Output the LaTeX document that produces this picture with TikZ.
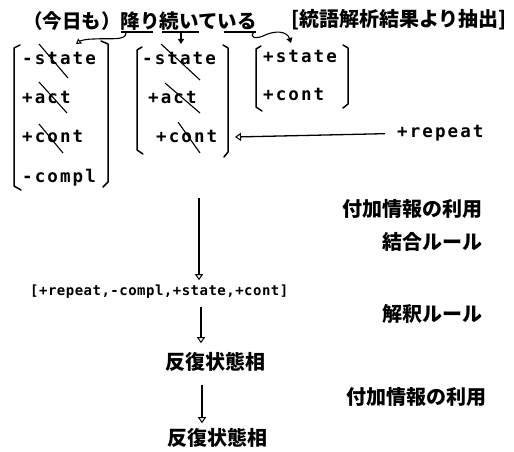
\documentclass[tikz,border=0pt]{standalone}
\usepackage{fontspec}
\newfontfamily\jp{Noto Sans CJK JP}
\newfontfamily\mono{DejaVu Sans Mono}[LetterSpace=12]
\newfontfamily\monosm{DejaVu Sans Mono}[LetterSpace=3.5]
\usetikzlibrary{arrows.meta}
\begin{document}
\begin{tikzpicture}[x=1pt,y=-1pt,
  feat/.style={font=\mono\bfseries\fontsize{17.5}{17.5}\selectfont, inner sep=0pt, anchor=base west},
  featsm/.style={font=\monosm\bfseries\fontsize{14}{14}\selectfont, inner sep=0pt, anchor=base west},
  jpl/.style={font=\jp\bfseries\fontsize{20}{20}\selectfont, inner sep=0pt},
  jpt/.style={font=\jp\bfseries\fontsize{19.5}{19.5}\selectfont, inner sep=0pt},
  brk/.style={line width=1.5pt, line join=round, line cap=round},
  strike/.style={line width=1.1pt},
  uline/.style={line width=1.3pt},
  oarrow/.style={line width=1.3pt, -{Triangle[open,length=6pt,width=8pt,line width=1pt]}},
  smarrow/.style={line width=1.1pt, -{Triangle[open,length=5pt,width=6pt,line width=1pt]}},
  farrow/.style={line width=1.1pt, -{Triangle[length=5pt,width=6pt]}}
]
\useasboundingbox (0,0) rectangle (514,452);

% title
\node[jpt, anchor=west] (title) at (23,21) {（今日も）降り続いている};
\node[jpt, anchor=west, font=\jp\bfseries\fontsize{20}{20}\selectfont] (src) at (291,20) {[統語解析結果より抽出]};
\draw[uline] (121,32) -- (153,32);
\draw[uline] (162,32) -- (199,32);
\draw[uline] (224,32) -- (256,32);

% box 1
\node[feat] (b1s) at (22,65) {-state};
\node[feat] (b1a) at (22,103) {+act};
\node[feat] (b1c) at (22,142) {+cont};
\node[feat] (b1m) at (22,182) {-compl};
\draw[brk] (20,45) -- (14,48) -- (14,186) -- (21,190);
\draw[brk] (101,41) -- (108,44) -- (108,182) -- (103,187);
\draw[strike] (39,44) -- (68,78);
\draw[strike] (39,82) -- (67,113);
\draw[strike] (39,124) -- (63,153);

% box 2
\node[feat] (b2s) at (142,65) {-state};
\node[feat] (b2a) at (148,103) {+act};
\node[feat] (b2c) at (156,142) {+cont};
\draw[brk] (142,47) -- (137,50) -- (137,150) -- (143,154);
\draw[brk] (223,45) -- (228,48) -- (228,152) -- (224,157);
\draw[strike] (161,44) -- (200,80);
\draw[strike] (165,83) -- (200,113);
\draw[strike] (178,122) -- (200,153);

% box 3
\node[feat] (b3s) at (263,63) {+state};
\node[feat] (b3c) at (263,100) {+cont};
\draw[brk] (261,46) -- (256,49) -- (256,107) -- (262,111);
\draw[brk] (343,45) -- (348,48) -- (348,104) -- (343,108);

% connectors from the title
\coordinate (c1s) at (126,33);
\coordinate (c1e) at (76,44);
\draw[smarrow] (c1s) .. controls (126,41) and (110,38) .. (94,39) .. controls (85,39) and (80,41) .. (c1e);
\coordinate (c2s) at (181,32);
\coordinate (c2e) at (181,44);
\draw[farrow] (c2s) -- (c2e);
\coordinate (c3s) at (254,32);
\coordinate (c3e) at (291,43);
\draw[farrow] (c3s) .. controls (249,38) and (256,39) .. (263,36) .. controls (275,30) and (287,31) .. (c3e);

% +repeat
\node[feat] (rep) at (397,137) {+repeat};
\coordinate (b2r) at (235,137);
\draw[oarrow] ([xshift=-12pt,yshift=-1pt]rep.west) -- (b2r);

% lower chain
\coordinate (v1) at (199,198);
\node[featsm] (comb) at (30,295) {[+repeat,-compl,+state,+cont]};
\draw[oarrow] (v1) -- ([yshift=4pt]comb.north -| v1);

\coordinate (v2) at (201,307);
\node[jpl, anchor=west] (r1) at (165,362) {反復状態相};
\draw[oarrow] (v2) -- ([yshift=9pt]r1.north -| v2);

\coordinate (v3) at (202,385);
\node[jpl, anchor=west] (r2) at (167,438) {反復状態相};
\draw[oarrow] (v3) -- ([yshift=5pt]r2.north -| v3);

% labels
\node[jpl, anchor=east] (l1) at (483,209) {付加情報の利用};
\node[jpl, anchor=east] (l2) at (483,242) {結合ルール};
\node[jpl, anchor=east] (l3) at (483,314) {解釈ルール};
\node[jpl, anchor=east] (l4) at (487,397) {付加情報の利用};
\end{tikzpicture}
\end{document}
